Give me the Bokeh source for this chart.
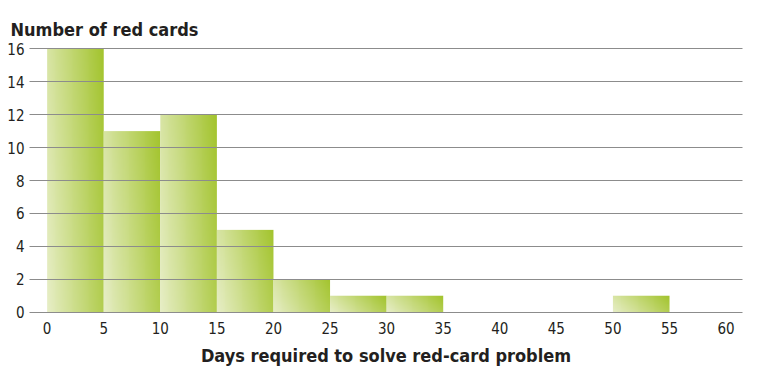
import numpy as np
from bokeh.plotting import figure
from bokeh.models import Range1d, FixedTicker
from bokeh.embed import file_html
from bokeh.resources import INLINE

# Data (histogram of days to solve red-card problems)
bin_left = [0, 5, 10, 15, 20, 25, 30, 50]
bin_right = [5, 10, 15, 20, 25, 30, 35, 55]
counts = [16, 11, 12, 5, 2, 1, 1, 1]
x_ticks = [0, 5, 10, 15, 20, 25, 30, 35, 40, 45, 50, 55, 60]
y_ticks = [0, 2, 4, 6, 8, 10, 12, 14, 16]

title_text = "Number of red cards"
xlabel_text = "Days required to solve red-card problem"

FONT = "'Liberation Sans Narrow', 'DejaVu Sans Condensed', 'Arial Narrow', sans-serif"

light = np.array([231, 238, 198], dtype=float)
dark = np.array([163, 196, 45], dtype=float)


def gradient_image(height_units):
    nx = 60
    ny = max(int(height_units * 16), 8)
    u = np.linspace(0, 1, nx)[None, :]
    v = np.linspace(0, 1, ny)[:, None]
    t = np.clip(0.78 * u + 0.22 * v, 0, 1)
    rgb = light[None, None, :] * (1 - t[..., None]) + dark[None, None, :] * t[..., None]
    img = np.empty((ny, nx), dtype=np.uint32)
    view = img.view(dtype=np.uint8).reshape((ny, nx, 4))
    view[..., 0] = rgb[..., 0].astype(np.uint8)
    view[..., 1] = rgb[..., 1].astype(np.uint8)
    view[..., 2] = rgb[..., 2].astype(np.uint8)
    view[..., 3] = 255
    return img


X0, X1 = -1.56, 61.45
Y0, Y1 = -0.2, 16.2

p = figure(width=774, height=384, output_backend="svg", toolbar_location=None,
           x_range=Range1d(X0, X1), y_range=Range1d(Y0, Y1),
           min_border_left=29, min_border_right=32, min_border_top=45,
           min_border_bottom=69, title=title_text)

p.outline_line_color = None
p.background_fill_color = "white"
p.border_fill_color = "white"

p.title.align = "left"
p.title.offset = -19
p.title.standoff = 11
p.title.text_font = FONT
p.title.text_font_size = "18px"
p.title.text_font_style = "bold"
p.title.text_color = "#231f20"

imgs = [gradient_image(c) for c in counts]
widths = [r - l for l, r in zip(bin_left, bin_right)]
p.image_rgba(image=imgs, x=bin_left, y=[0] * len(counts), dw=widths, dh=counts)

# grid on top of bars
p.xgrid.grid_line_color = None
p.ygrid.grid_line_color = "#8c8c8c"
p.ygrid.grid_line_width = 1
p.ygrid.ticker = FixedTicker(ticks=y_ticks)
p.ygrid.level = "annotation"

# axes
p.xaxis.ticker = FixedTicker(ticks=x_ticks)
p.yaxis.ticker = FixedTicker(ticks=y_ticks)
for ax in (p.xaxis[0], p.yaxis[0]):
    ax.axis_line_color = None
    ax.major_tick_line_color = None
    ax.minor_tick_line_color = None
    ax.major_tick_out = 0
    ax.major_tick_in = 0
    ax.minor_tick_out = 0
    ax.major_label_text_font = FONT
    ax.major_label_text_font_size = "15px"
    ax.major_label_text_color = "#231f20"
p.yaxis.major_label_standoff = 5
p.xaxis.major_label_standoff = 6

p.xaxis.axis_label = xlabel_text
p.xaxis.axis_label_text_font = FONT
p.xaxis.axis_label_text_font_size = "18px"
p.xaxis.axis_label_text_font_style = "bold"
p.xaxis.axis_label_text_color = "#231f20"
p.xaxis.axis_label_standoff = 8

open("out.html", "w").write(file_html(p, INLINE))
